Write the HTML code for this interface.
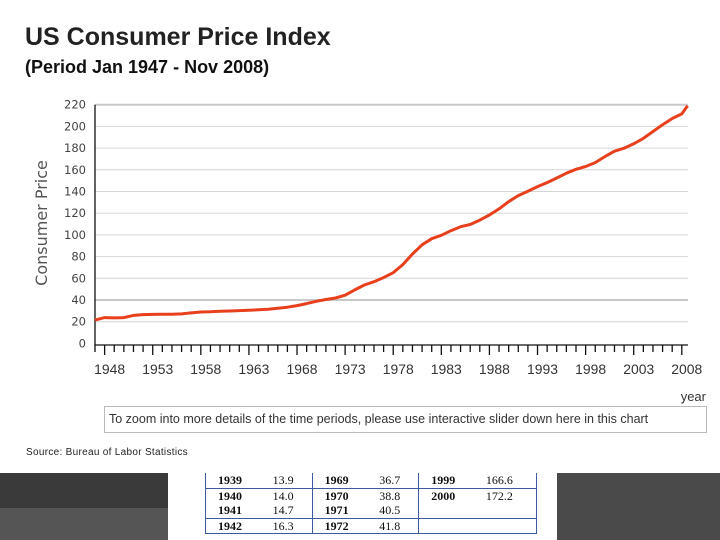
<!DOCTYPE html>
<html><head><meta charset="utf-8">
<style>
body{margin:0;width:720px;height:540px;background:#fff;overflow:hidden;position:relative;font-family:"Liberation Sans",sans-serif}
.abs{position:absolute}
table td{padding:0;line-height:14px}
</style></head><body>
<div class="abs" style="left:25px;top:23px;font-size:25px;font-weight:bold;color:#222">US Consumer Price Index</div>
<div class="abs" style="left:25px;top:57px;font-size:18px;font-weight:bold;color:#111">(Period Jan 1947 - Nov 2008)</div>
<svg class="abs" style="left:0;top:0" width="720" height="405">
<g id="grid"></g><g id="yt"></g><g id="xt"></g>
<text transform="translate(47,223) rotate(-90)" text-anchor="middle" font-size="16" fill="#555" font-family="DejaVu Sans, sans-serif">Consumer Price</text>
<text x="706" y="401" text-anchor="end" font-size="13" fill="#333">year</text>
<path id="line" fill="none" stroke="#e8401c" stroke-width="3" stroke-linejoin="round"/>
</svg>
<div class="abs" style="left:104px;top:406px;border:1px solid #bbb;font-size:12.5px;color:#333;line-height:24px;padding-left:4px;box-sizing:border-box;width:603px;height:27px">To zoom into more details of the time periods, please use interactive slider down here in this chart</div>
<div class="abs" style="left:26px;top:447px;font-size:10px;color:#222;letter-spacing:.3px">Source: Bureau of Labor Statistics</div>
<div class="abs" style="left:0;top:473px;width:168px;height:67px;background:#555"></div>
<div class="abs" style="left:0;top:473px;width:168px;height:35px;background:#3a3a3a"></div>
<div class="abs" style="left:557px;top:473px;width:163px;height:67px;background:#4a4a4a"></div>
<table class="abs" style="left:205px;top:473px;width:332px;border-collapse:collapse;font-family:'Liberation Serif',serif;font-size:12px;color:#111;border:1px solid #3b5b9a;border-top:none">
<tr style="height:15px"><td style="font-weight:bold;padding-left:12px">1939</td><td>13.9</td><td style="border-left:1px solid #3b5b9a;font-weight:bold;padding-left:12px">1969</td><td>36.7</td><td style="border-left:1px solid #3b5b9a;font-weight:bold;padding-left:12px">1999</td><td>166.6</td></tr>
<tr style="height:15px;border-top:1px solid #3b5b9a"><td style="font-weight:bold;padding-left:12px">1940</td><td>14.0</td><td style="border-left:1px solid #3b5b9a;font-weight:bold;padding-left:12px">1970</td><td>38.8</td><td style="border-left:1px solid #3b5b9a;font-weight:bold;padding-left:12px">2000</td><td>172.2</td></tr>
<tr style="height:15px"><td style="font-weight:bold;padding-left:12px">1941</td><td>14.7</td><td style="border-left:1px solid #3b5b9a;font-weight:bold;padding-left:12px">1971</td><td>40.5</td><td style="border-left:1px solid #3b5b9a"></td><td></td></tr>
<tr style="height:15px;border-top:1px solid #3b5b9a"><td style="font-weight:bold;padding-left:12px">1942</td><td>16.3</td><td style="border-left:1px solid #3b5b9a;font-weight:bold;padding-left:12px">1972</td><td>41.8</td><td style="border-left:1px solid #3b5b9a"></td><td></td></tr>
</table>
<script>
const years=[1947,1948,1949,1950,1951,1952,1953,1954,1955,1956,1957,1958,1959,1960,1961,1962,1963,1964,1965,1966,1967,1968,1969,1970,1971,1972,1973,1974,1975,1976,1977,1978,1979,1980,1981,1982,1983,1984,1985,1986,1987,1988,1989,1990,1991,1992,1993,1994,1995,1996,1997,1998,1999,2000,2001,2002,2003,2004,2005,2006,2007,2008,2008.6];
const cpi=[21.5,23.8,23.5,23.8,25.8,26.5,26.7,26.9,26.8,27.2,28.1,28.9,29.1,29.6,29.9,30.2,30.6,31,31.5,32.4,33.4,34.8,36.7,38.8,40.5,41.8,44.4,49.3,53.8,56.9,60.6,65.2,72.6,82.4,90.9,96.5,99.6,103.9,107.6,109.6,113.6,118.3,124,130.7,136.2,140.3,144.5,148.2,152.4,156.9,160.5,163,166.6,172.2,177.1,179.9,184,188.9,195.3,201.6,207.3,211.5,219];
const yTicks=[0,20,40,60,80,100,120,140,160,180,200,220];
const xLabels=[1948,1953,1958,1963,1968,1973,1978,1983,1988,1993,1998,2003,2008];
const X=y=>95+(y-1947)*9.62, Y=v=>343.4-v*1.085;
const ns="http://www.w3.org/2000/svg";
function mk(p,t,a){const e=document.createElementNS(ns,t);for(const k in a)e.setAttribute(k,a[k]);document.getElementById(p).appendChild(e);return e;}
yTicks.forEach(v=>{
 if(v>0){const g=mk('grid','line',{x1:95,x2:688,y1:Y(v),y2:Y(v),stroke:(v==40||v==220)?'#c8c8c8':'#d6d6d6','stroke-width':(v==40||v==220)?2:1});
 
 }
 const t=mk('yt','text',{x:86,y:Y(v)+4,'text-anchor':'end','font-size':11.5,fill:'#444','font-family':'DejaVu Sans, sans-serif'});t.textContent=v;
 
 
});
const ax=mk('grid','path',{d:`M95,${Y(220)}V345H688`,stroke:'#111','stroke-width':1.3,fill:'none'});


for(let y=1947;y<=2008;y++){const big=(y-1948)%5==0;mk('xt','line',{x1:X(y),x2:X(y),y1:345,y2:big?355:352,stroke:'#111','stroke-width':1.3});}
xLabels.forEach(y=>{const t=mk('xt','text',{x:X(y)+5,y:374,'text-anchor':'middle','font-size':13.5,fill:'#333','textLength':31,'lengthAdjust':'spacingAndGlyphs'});t.textContent=y;
 
 });
const ln=document.getElementById('line');
ln.setAttribute('d',years.map((y,i)=>(i?'L':'M')+X(y).toFixed(1)+','+Y(cpi[i]).toFixed(1)).join(''));


</script>
</body></html>
